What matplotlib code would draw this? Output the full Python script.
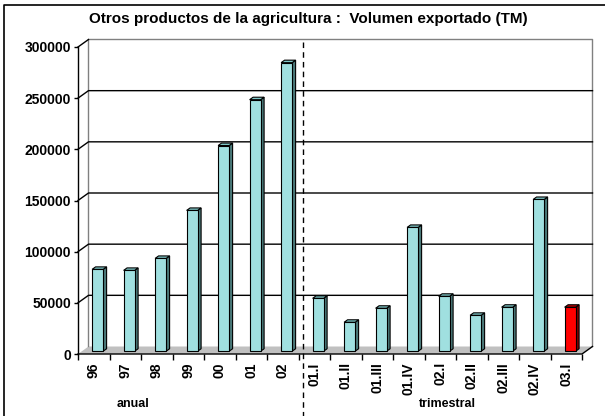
import matplotlib
matplotlib.use('Agg')
import matplotlib.pyplot as plt
from matplotlib.patches import Polygon
from matplotlib.lines import Line2D

plt.rcParams['font.family'] = ['Liberation Sans', 'DejaVu Sans']

# data
categories = ['96', '97', '98', '99', '00', '01', '02',
              '01.I', '01.II', '01.III', '01.IV', '02.I', '02.II', '02.III', '02.IV', '03.I']
values = [80000, 79000, 90700, 137600, 201000, 245800, 282000,
          51700, 28300, 42000, 121000, 53700, 35100, 43000, 148300, 43000]
bar_colors = ['cyan'] * 15 + ['red']
yticks = [0, 50000, 100000, 150000, 200000, 250000, 300000]
group_labels = ['anual', 'trimestral']

# face colours (front, side, top)
palette = {'cyan': ('#A0E0E0', '#4A7878', '#80C8C8'),
           'red': ('#FF0000', '#800000', '#C00000')}

fig = plt.figure(figsize=(6.05, 4.16), dpi=100)
fig.patch.set_facecolor('white')
ax = fig.add_axes([78 / 605, 62 / 416, 504 / 605, 307 / 416])
n = len(categories)
ax.set_xlim(-0.5, n - 0.5)
ax.set_ylim(0, 300000)
ax.patch.set_visible(False)
for s in ax.spines.values():
    s.set_visible(False)

# depth offset of the back wall in data units
DX = 0.333
DY = 7330
x0, x1 = -0.5, n - 0.5
top = 300000

# floor
ax.add_patch(Polygon([(x0, 0), (x1, 0), (x1 + DX, DY), (x0 + DX, DY)],
                     closed=True, facecolor='#C0C0C0', edgecolor='none', clip_on=False, zorder=1))
# back wall border (gray)
ax.plot([x0 + DX, x0 + DX, x1 + DX, x1 + DX], [DY, top + DY, top + DY, DY],
        color='#808080', lw=1, clip_on=False, zorder=1)
# gridlines on side wall and back wall
for v in yticks[1:]:
    if v < top:
        ax.plot([x0, x0 + DX, x1 + DX], [v, v + DY, v + DY], color='black', lw=1, clip_on=False, zorder=1)
    else:
        ax.plot([x0, x0 + DX], [v, v + DY], color='black', lw=1, clip_on=False, zorder=1)

# axes lines
ax.plot([x0, x0], [0, top], color='black', lw=1, clip_on=False, zorder=3)
ax.plot([x0, x1, x1 + DX], [0, 0, DY], color='black', lw=1, clip_on=False, zorder=3)

# bars
w = 0.35
d0, d1 = 0.37, 0.70
for i, (v, c) in enumerate(zip(values, bar_colors)):
    front, side, topc = palette[c]
    xl = i - w / 2
    xr = i + w / 2
    ax.add_patch(Polygon([(xr + d0 * DX, d0 * DY), (xr + d1 * DX, d1 * DY),
                          (xr + d1 * DX, v + d1 * DY), (xr + d0 * DX, v + d0 * DY)],
                         closed=True, facecolor=side, edgecolor='black', lw=0.8, clip_on=False, zorder=4))
    ax.add_patch(Polygon([(xl + d0 * DX, v + d0 * DY), (xr + d0 * DX, v + d0 * DY),
                          (xr + d1 * DX, v + d1 * DY), (xl + d1 * DX, v + d1 * DY)],
                         closed=True, facecolor=topc, edgecolor='black', lw=0.8, clip_on=False, zorder=4))
    ax.bar(xl + d0 * DX, v, width=w, bottom=d0 * DY, align='edge', color=front,
           edgecolor='black', linewidth=0.8, clip_on=False, zorder=5)

# dashed separator between anual and trimestral
xs = 6.5 + 0.4 * DX
ax.plot([xs, xs], [-62000, top + DY], color='black', lw=1, ls=(0, (4, 3)), clip_on=False, zorder=6)

# ticks
ax.set_yticks(yticks)
ax.set_yticklabels([str(v) for v in yticks], fontsize=10, fontweight='bold')
ax.tick_params(axis='y', length=3, width=1, pad=2)
ax.set_xticks([i - 0.5 for i in range(n + 1)])
ax.set_xticklabels([])
ax.set_xticks(range(n), minor=True)
ax.set_xticklabels(categories, minor=True, rotation=90, fontsize=10, fontweight='bold')
ax.tick_params(axis='x', which='major', length=4, width=1)
ax.tick_params(axis='x', which='minor', length=0, pad=6)

# titles and group labels
fig.text(308 / 605, 1 - 19 / 416, 'Otros productos de la agricultura :  Volumen exportado (TM)',
         ha='center', va='center', fontsize=11, fontweight='bold')
fig.text(133 / 605, 1 - 404 / 416, group_labels[0], ha='center', va='center', fontsize=9, fontweight='bold')
fig.text(447 / 605, 1 - 404 / 416, group_labels[1], ha='center', va='center', fontsize=9, fontweight='bold')

# outer border (top and left visible)
fig.add_artist(Line2D([4 / 605, 4 / 605, 1], [0, 1 - 5 / 416, 1 - 5 / 416], color='black', lw=1.2))

fig.savefig('out.png', dpi=100, facecolor='white')
